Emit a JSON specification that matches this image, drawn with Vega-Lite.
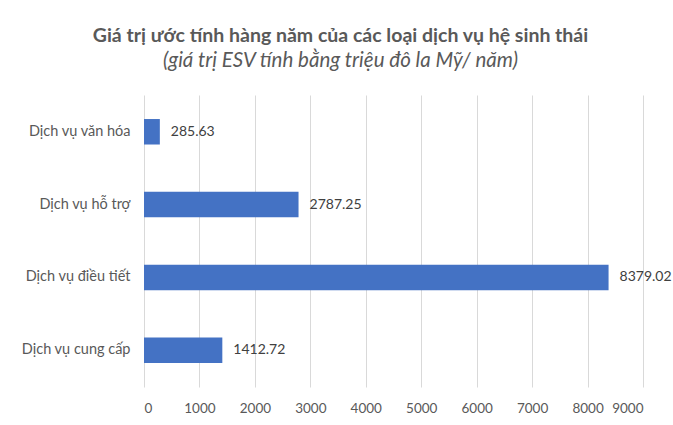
{
  "$schema": "https://vega.github.io/schema/vega-lite/v6.json",
  "width": 499,
  "height": 292,
  "autosize": {"type": "none"},
  "padding": {"left": 144, "top": 95, "right": 30, "bottom": 38},
  "background": "white",
  "title": {
    "text": "Giá trị ước tính hàng năm của các loại dịch vụ hệ sinh thái",
    "subtitle": "(giá trị ESV tính bằng triệu đô la Mỹ/ năm)",
    "font": "Lato",
    "fontSize": 19.5,
    "fontWeight": "bold",
    "color": "#595959",
    "subtitleFont": "Lato",
    "subtitleFontSize": 20.5,
    "subtitleFontStyle": "italic",
    "subtitleColor": "#595959",
    "subtitlePadding": 4,
    "anchor": "middle",
    "dx": -53,
    "offset": 23
  },
  "data": {
    "values": [
      {"service": "Dịch vụ  văn hóa", "value": 285.63},
      {"service": "Dịch vụ  hỗ trợ", "value": 2787.25},
      {"service": "Dịch vụ  điều tiết", "value": 8379.02},
      {"service": "Dịch vụ cung cấp", "value": 1412.72}
    ]
  },
  "encoding": {
    "y": {
      "field": "service",
      "type": "nominal",
      "sort": null,
      "title": null,
      "scale": {"paddingInner": 0.65, "paddingOuter": 0.33},
      "axis": {
        "domain": false,
        "ticks": false,
        "labelFont": "Lato",
        "labelFontSize": 14.5,
        "labelColor": "#595959",
        "labelPadding": 14
      }
    },
    "x": {
      "field": "value",
      "type": "quantitative",
      "title": null,
      "scale": {"domain": [0, 9000], "nice": false},
      "axis": {
        "values": [0, 1000, 2000, 3000, 4000, 5000, 6000, 7000, 8000, 9000],
        "format": "d",
        "domain": false,
        "ticks": false,
        "grid": true,
        "gridColor": "#d9d9d9",
        "labelFont": "Lato",
        "labelFontSize": 13.5,
        "labelColor": "#595959",
        "labelPadding": 14
      }
    }
  },
  "layer": [
    {"mark": {"type": "bar", "color": "#4472C4"}},
    {
      "mark": {"type": "text", "align": "left", "dx": 11, "font": "Lato", "fontSize": 14, "color": "#404040"},
      "encoding": {"text": {"field": "value", "type": "quantitative", "format": ".2f"}}
    }
  ],
  "config": {"view": {"stroke": null}}
}
